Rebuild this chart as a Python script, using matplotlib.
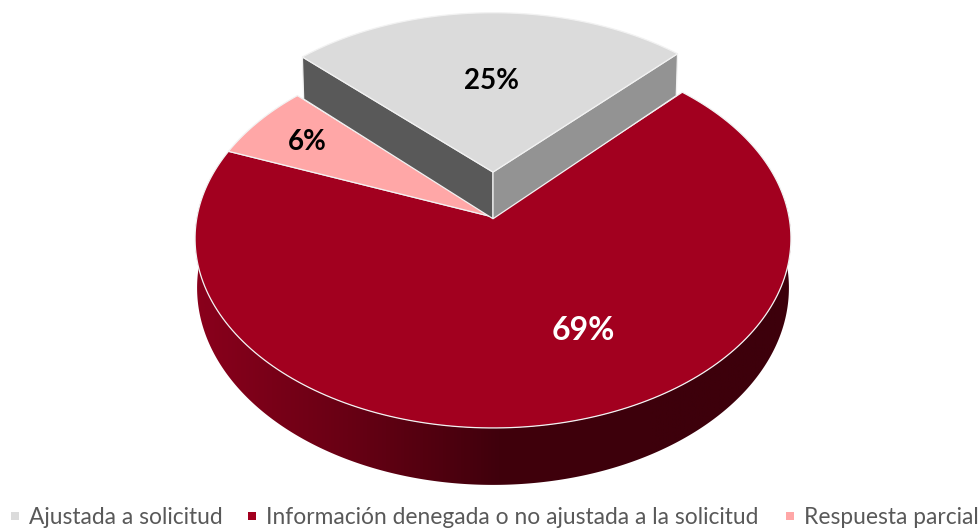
import numpy as np
import matplotlib
matplotlib.use("Agg")
import matplotlib.pyplot as plt
from matplotlib.colors import LinearSegmentedColormap
from matplotlib.patches import Polygon, Rectangle

categories = ["Ajustada a solicitud", "Información denegada o no ajustada a la solicitud", "Respuesta parcial"]
values = [24.8, 68.8, 6.4]
colors = ["#DBDBDB", "#A2001F", "#FFA7A7"]
label_colors = ["black", "white", "black"]

start_angle = -45.5   # grados, desde arriba en sentido horario
explode = 0.247       # solo la porcion gris

# --- proyeccion del plano de la tarta a pixeles ---
cx = 493
k = 0.1135
def top_plane(u, v):
    w = 1 + k * v
    return cx + 296 * u / w, 217 - 187 * v / w

def bottom_plane(u, v):
    w = 1 + k * v
    return cx + 294 * u / w, 265.5 - 194.5 * v / w

def rim(a0, a1, n=200):
    t = np.radians(np.linspace(a0, a1, n))
    return np.sin(t), np.cos(t)

fig = plt.figure(figsize=(9.79, 5.29), dpi=100)
ax = fig.add_axes([0, 0, 1, 1])

edges = np.cumsum([0] + values) * 3.6 + start_angle
edge_col = "#F2F2F2"

# pared frontal de la porcion roja: degradado recortado
side_cmap = LinearSegmentedColormap.from_list("side", ["#8A001C", "#680014", "#40000C", "#3D000B"])
ramp = np.clip(np.linspace(0, 596 / 457, 600), 0, 1)[None, :]
im = ax.imshow(ramp, cmap=side_cmap, vmin=0, vmax=1, extent=(195, 791, 490, 200), aspect="auto", zorder=1)
u, v = rim(edges[1], edges[2], 500)
xt, yt = top_plane(u, v)
xb, yb = bottom_plane(u, v)
side = Polygon(np.c_[np.r_[xt, xb[::-1]], np.r_[yt, yb[::-1]]], closed=True, transform=ax.transData)
im.set_clip_path(side)

ax.set_xlim(0, 979)
ax.set_ylim(529, 0)
ax.axis("off")

# tapas de rojo y rosa
for i in [1, 2]:
    u, v = rim(edges[i], edges[i + 1])
    x, y = top_plane(np.r_[0, u], np.r_[0, v])
    ax.add_patch(Polygon(np.c_[x, y], closed=True, facecolor=colors[i], edgecolor=edge_col, linewidth=0.9, zorder=2))

# porcion gris separada, con sus dos paredes
a0, a1 = np.radians(edges[0]), np.radians(edges[1])
wall_left = [top_plane(0, explode), top_plane(np.sin(a0), np.cos(a0) + explode),
             bottom_plane(np.sin(a0), np.cos(a0) + explode), bottom_plane(0, explode)]
ax.add_patch(Polygon(wall_left, closed=True, facecolor="#595959", edgecolor=edge_col, linewidth=0.9, zorder=3))

wall_right = [top_plane(0, explode), top_plane(np.sin(a1), np.cos(a1) + explode),
              bottom_plane(np.sin(a1), np.cos(a1) + explode), bottom_plane(0, explode)]
ax.add_patch(Polygon(wall_right, closed=True, facecolor="#939393", edgecolor=edge_col, linewidth=0.9, zorder=3))

u, v = rim(edges[0], edges[1])
x, y = top_plane(np.r_[0, u], np.r_[explode, v + explode])
ax.add_patch(Polygon(np.c_[x, y], closed=True, facecolor=colors[0], edgecolor=edge_col, linewidth=0.9, zorder=4))

# etiquetas de porcentaje
label_uv = [(-0.005, 0.79), (0.285, -0.57), (-0.656, 0.42)]
label_sizes = [20, 23, 20]
for val, (lu, lv), col, fs in zip(values, label_uv, label_colors, label_sizes):
    lx, ly = top_plane(lu, lv)
    ax.text(lx, ly, f"{val:.0f}%", color=col, fontsize=fs, fontweight="bold", family="Lato",
            ha="center", va="center", zorder=5)

# leyenda
legend_x = [11, 248, 786]
for name, lx, col in zip(categories, legend_x, colors):
    ax.add_patch(Rectangle((lx, 512), 8, 8, facecolor=col, edgecolor="none", zorder=5))
    ax.text(lx + 18, 517, name, color="#595959", fontsize=16.4, family="Lato", ha="left", va="center", zorder=5)

fig.savefig("out.png", dpi=100)
